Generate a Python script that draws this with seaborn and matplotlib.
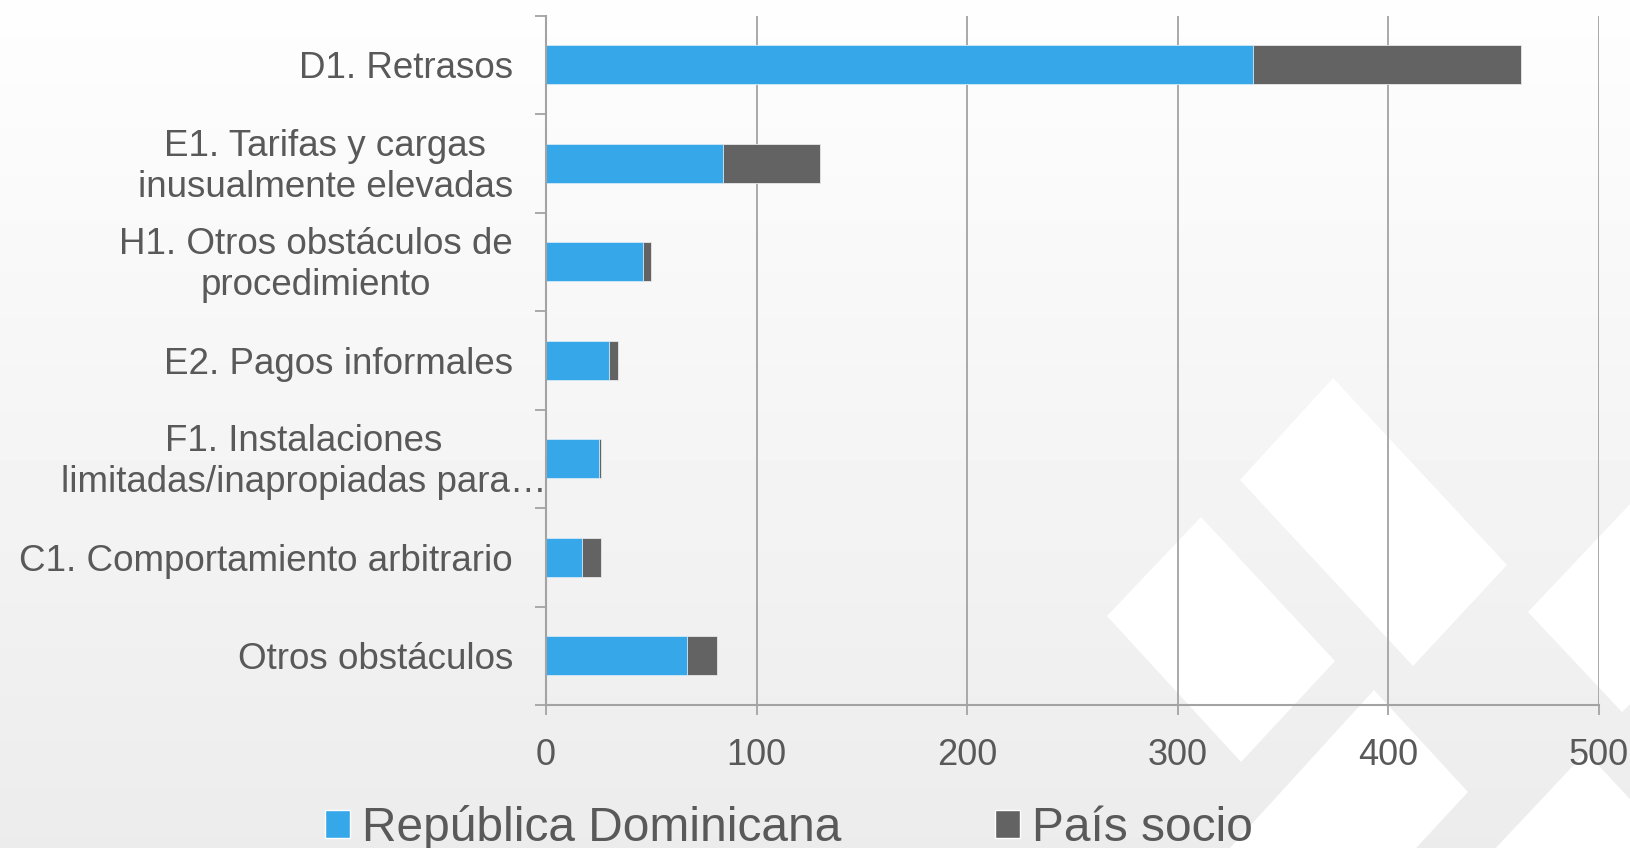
import matplotlib
matplotlib.use("Agg")
import matplotlib.pyplot as plt
import seaborn as sns
import numpy as np
import pandas as pd
from matplotlib.patches import Polygon, Rectangle
from matplotlib.transforms import ScaledTranslation

# ---- data ----
categories = [
    "D1. Retrasos",
    "E1. Tarifas y cargas\ninusualmente elevadas",
    "H1. Otros obstáculos de\nprocedimiento",
    "E2. Pagos informales",
    "F1. Instalaciones\nlimitadas/inapropiadas para…",
    "C1. Comportamiento arbitrario",
    "Otros obstáculos",
]
rep_dominicana = [336, 84, 46, 30, 25, 17, 67]
pais_socio = [127, 46, 4, 4, 1, 9, 14]
series_names = ["República Dominicana", "País socio"]
x_ticks = [0, 100, 200, 300, 400, 500]

BLUE = "#36A7E8"
GRAY = "#636363"
TEXT = "#595959"
LINE = "#A3A3A3"

sns.set_theme(style="white")
plt.rcParams["font.family"] = ["Liberation Sans", "DejaVu Sans"]

W, H = 1631, 848
fig = plt.figure(figsize=(W / 100, H / 100), dpi=100)

# background gradient + decorative watermark
bg = fig.add_axes([0, 0, 1, 1], zorder=0)
bg.axis("off")
grad = np.linspace(0.925, 0.995, 256)[:, None]
bg.imshow(grad, cmap="gray", vmin=0, vmax=1, aspect="auto",
          extent=[0, 1, 0, 1], origin="lower")
bg.set_xlim(0, 1)
bg.set_ylim(0, 1)
shapes_px = [
    [(1333, 378), (1507, 565), (1413, 666), (1240, 480)],
    [(1201, 517), (1335, 661), (1241, 762), (1107, 616)],
    [(1528, 612), (1700, 430), (1800, 540), (1622, 712)],
    [(1374, 690), (1468, 792), (1280, 995), (1187, 895)],
    [(1586, 752), (1700, 874), (1600, 984), (1492, 852)],
]
for pts in shapes_px:
    bg.add_patch(Polygon([(x / W, 1 - y / H) for x, y in pts],
                         closed=True, facecolor="white", edgecolor="none"))

ax = fig.add_axes([546 / W, 1 - 705 / H, (1598.6 - 546) / W, (705 - 15.5) / H], zorder=1)
ax.patch.set_alpha(0)

df = pd.DataFrame({"cat": categories, "rd": rep_dominicana, "socio": pais_socio})
df["total"] = df["rd"] + df["socio"]

sns.barplot(data=df, x="total", y="cat", color=GRAY, width=0.4, saturation=1,
            orient="h", ax=ax, edgecolor="#e8e8e8", linewidth=0.6)
sns.barplot(data=df, x="rd", y="cat", color=BLUE, width=0.4, saturation=1,
            orient="h", ax=ax, edgecolor="#d6ecf9", linewidth=0.6)

ax.set_xlim(0, 500)
ax.set_ylim(6.5, -0.5)
ax.set_xticks(x_ticks)
ax.set_xticklabels([str(v) for v in x_ticks])
ax.xaxis.grid(True, color=LINE, lw=1.3)
ax.yaxis.grid(False)
ax.set_axisbelow(True)
ax.set_xlabel("")
ax.set_ylabel("")

for s in ["top", "right"]:
    ax.spines[s].set_visible(False)
for s in ["left", "bottom"]:
    ax.spines[s].set_color(LINE)
    ax.spines[s].set_linewidth(1.5)

ax.set_yticks(range(len(categories)))
ax.set_yticklabels(categories)
ax.tick_params(axis="y", which="major", length=0, pad=23.8)
ax.set_yticks(np.arange(-0.5, len(categories), 1), minor=True)
ax.tick_params(axis="y", which="minor", length=8, width=1.3, color=LINE, left=True)
ax.tick_params(axis="x", length=7.5, width=1.3, color=LINE, pad=16,
               labelsize=26, labelcolor=TEXT, bottom=True)
for i, t in enumerate(ax.get_yticklabels()):
    t.set_multialignment("center")
    t.set_linespacing(1.22)
    t.set_fontsize(26.5)
    t.set_color(TEXT)
    dx = 0.34 if categories[i].startswith("F1") else 0.0
    dy = 0.035 if "\n" in categories[i] else 0.0
    t.set_transform(t.get_transform() + ScaledTranslation(dx, dy, fig.dpi_scale_trans))

handles = [Rectangle((0, 0), 1, 1, facecolor=BLUE), Rectangle((0, 0), 1, 1, facecolor=GRAY)]
fig.legend(handles, series_names, loc="center", bbox_to_anchor=(0.4837, 0.024),
           ncol=2, frameon=False, fontsize=34.5, handlelength=0.52, handleheight=0.52,
           handletextpad=0.26, columnspacing=3.2, labelcolor=TEXT,
           borderpad=0, borderaxespad=0)

fig.savefig("out.png", dpi=100)
